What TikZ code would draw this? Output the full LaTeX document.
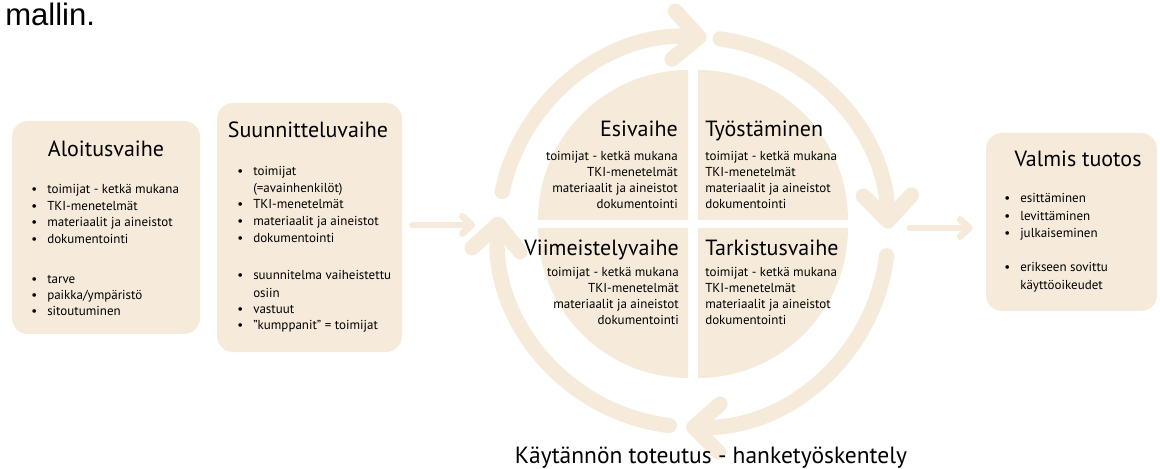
\documentclass[tikz,border=0pt]{standalone}
\usepackage{fontspec}
\setmainfont{PT Sans}
\newfontfamily\arialfont{Liberation Sans}
\usetikzlibrary{arrows.meta,positioning}
\definecolor{beige}{RGB}{246,235,218}
\tikzset{>={Straight Barb[round]},
	phasebox/.style={fill=beige,rounded corners=12pt,inner sep=0pt},
	quarter/.style={fill=beige},
	ring/.style={draw=beige,line width=11.5pt,line cap=round,-{Straight Barb[round,length=19pt,width=36pt]}},
	flow/.style={draw=beige,line width=5pt,line cap=round,-{Straight Barb[round,length=7pt,width=13pt]}},
	headtxt/.style={inner sep=0pt,font=\fontsize{16.5}{18}\selectfont},
	itemtxt/.style={inner sep=0pt,font=\fontsize{9.75}{12}\selectfont},
	captxt/.style={inner sep=0pt,font=\fontsize{17.6}{20}\selectfont}}
\newcommand{\bl}{\llap{\textbullet\hspace{7.5pt}}}
\begin{document}
\begin{tikzpicture}[x=0.75pt,y=0.75pt]
	\useasboundingbox (0,0) rectangle (1160,468);
	\node (mal) at (5,442) [anchor=base west,inner sep=0pt,font=\arialfont\fontsize{23.3}{26}\selectfont] {mallin.};
	\node (alo) at (106,240.5) [phasebox,minimum width=141pt,minimum height=159.75pt] {};
	\node (suun) at (309.5,240.5) [phasebox,minimum width=138.75pt,minimum height=186.75pt] {};
	\node (valm) at (1071.5,246) [phasebox,minimum width=128.25pt,minimum height=133.5pt] {};
	\coordinate (O) at (693,244);
	\coordinate (R) at (693,236);
	\coordinate (inL) at (475,243);
	\coordinate (outR) at (910,240);
	\fill[quarter] ([shift={(-5,4)}]O) -- ++(-150,0) arc[start angle=180,end angle=90,radius=112.5pt] -- cycle;
	\fill[quarter] ([shift={(5,4)}]O) -- ++(150,0) arc[start angle=0,end angle=90,radius=112.5pt] -- cycle;
	\fill[quarter] ([shift={(-5,-4)}]O) -- ++(-150,0) arc[start angle=180,end angle=270,radius=112.5pt] -- cycle;
	\fill[quarter] ([shift={(5,-4)}]O) -- ++(150,0) arc[start angle=0,end angle=-90,radius=112.5pt] -- cycle;
	\draw[ring] ([shift={(168:195)}]R) arc[start angle=168,end angle=86,radius=146.25pt];
	\draw[ring] ([shift={(82:195)}]R) arc[start angle=82,end angle=1,radius=146.25pt];
	\draw[ring] ([shift={(-7:195)}]R) arc[start angle=-7,end angle=-92,radius=146.25pt];
	\draw[ring] ([shift={(-97:195)}]R) arc[start angle=-97,end angle=-184.5,radius=146.25pt];
	\draw[flow] ([xshift=7.5pt]suun.east |- inL) -- (inL);
	\draw[flow] (outR) -- ([xshift=-9.75pt]valm.west |- outR);
	\node (At) at (106,311) [headtxt,anchor=base] {Aloitusvaihe};
	\node (St) at (308,330) [headtxt,anchor=base] {Suunnitteluvaihe};
	\node (Vt) at (1078,301) [headtxt,anchor=base] {Valmis tuotos};
	\node (Et) at (678,331) [headtxt,anchor=base east] {Esivaihe};
	\node (Tt) at (705,331) [headtxt,anchor=base west] {Työstäminen};
	\node (Mt) at (679,212) [headtxt,anchor=base east] {Viimeistelyvaihe};
	\node (Kt) at (705,212) [headtxt,anchor=base west] {Tarkistusvaihe};
	\node (cap) at (711,5) [captxt,anchor=base] {Käytännön toteutus - hanketyöskentely};
	\node (A1) at (47,274) [itemtxt,anchor=base west] {\bl toimijat - ketkä mukana};
	\node (A2) at (47,257.5) [itemtxt,anchor=base west] {\bl TKI-menetelmät};
	\node (A3) at (47,241) [itemtxt,anchor=base west] {\bl materiaalit ja aineistot};
	\node (A4) at (47,224.5) [itemtxt,anchor=base west] {\bl dokumentointi};
	\node (A5) at (47,184) [itemtxt,anchor=base west] {\bl tarve};
	\node (A6) at (47,168) [itemtxt,anchor=base west] {\bl paikka/ympäristö};
	\node (A7) at (47,152) [itemtxt,anchor=base west] {\bl sitoutuminen};
	\node (S1) at (253,292) [itemtxt,anchor=base west] {\bl toimijat};
	\node (S2) at (253,275.5) [itemtxt,anchor=base west] {(=avainhenkilöt)};
	\node (S3) at (253,259) [itemtxt,anchor=base west] {\bl TKI-menetelmät};
	\node (S4) at (253,242) [itemtxt,anchor=base west] {\bl materiaalit ja aineistot};
	\node (S5) at (253,225.5) [itemtxt,anchor=base west] {\bl dokumentointi};
	\node (S6) at (253,188) [itemtxt,anchor=base west] {\bl suunnitelma vaiheistettu};
	\node (S7) at (253,171) [itemtxt,anchor=base west] {osiin};
	\node (S8) at (253,154.5) [itemtxt,anchor=base west] {\bl vastuut};
	\node (S9) at (253,138) [itemtxt,anchor=base west] {\bl "kumppanit" = toimijat};
	\node (V1) at (1020,265) [itemtxt,anchor=base west] {\bl esittäminen};
	\node (V2) at (1020,247.5) [itemtxt,anchor=base west] {\bl levittäminen};
	\node (V3) at (1020,230) [itemtxt,anchor=base west] {\bl julkaiseminen};
	\node (V4) at (1020,196) [itemtxt,anchor=base west] {\bl erikseen sovittu};
	\node (V5) at (1020,178) [itemtxt,anchor=base west] {käyttöoikeudet};
	\node (E1) at (678,307) [itemtxt,anchor=base east] {toimijat - ketkä mukana};
	\node (E2) at (678,291) [itemtxt,anchor=base east] {TKI-menetelmät};
	\node (E3) at (678,275) [itemtxt,anchor=base east] {materiaalit ja aineistot};
	\node (E4) at (678,259) [itemtxt,anchor=base east] {dokumentointi};
	\node (T1) at (705,307) [itemtxt,anchor=base west] {toimijat - ketkä mukana};
	\node (T2) at (705,291) [itemtxt,anchor=base west] {TKI-menetelmät};
	\node (T3) at (705,275) [itemtxt,anchor=base west] {materiaalit ja aineistot};
	\node (T4) at (705,259) [itemtxt,anchor=base west] {dokumentointi};
	\node (M1) at (679,191) [itemtxt,anchor=base east] {toimijat - ketkä mukana};
	\node (M2) at (679,175) [itemtxt,anchor=base east] {TKI-menetelmät};
	\node (M3) at (679,159) [itemtxt,anchor=base east] {materiaalit ja aineistot};
	\node (M4) at (679,143) [itemtxt,anchor=base east] {dokumentointi};
	\node (K1) at (705,191) [itemtxt,anchor=base west] {toimijat - ketkä mukana};
	\node (K2) at (705,175) [itemtxt,anchor=base west] {TKI-menetelmät};
	\node (K3) at (705,159) [itemtxt,anchor=base west] {materiaalit ja aineistot};
	\node (K4) at (705,143) [itemtxt,anchor=base west] {dokumentointi};
\end{tikzpicture}
\end{document}
